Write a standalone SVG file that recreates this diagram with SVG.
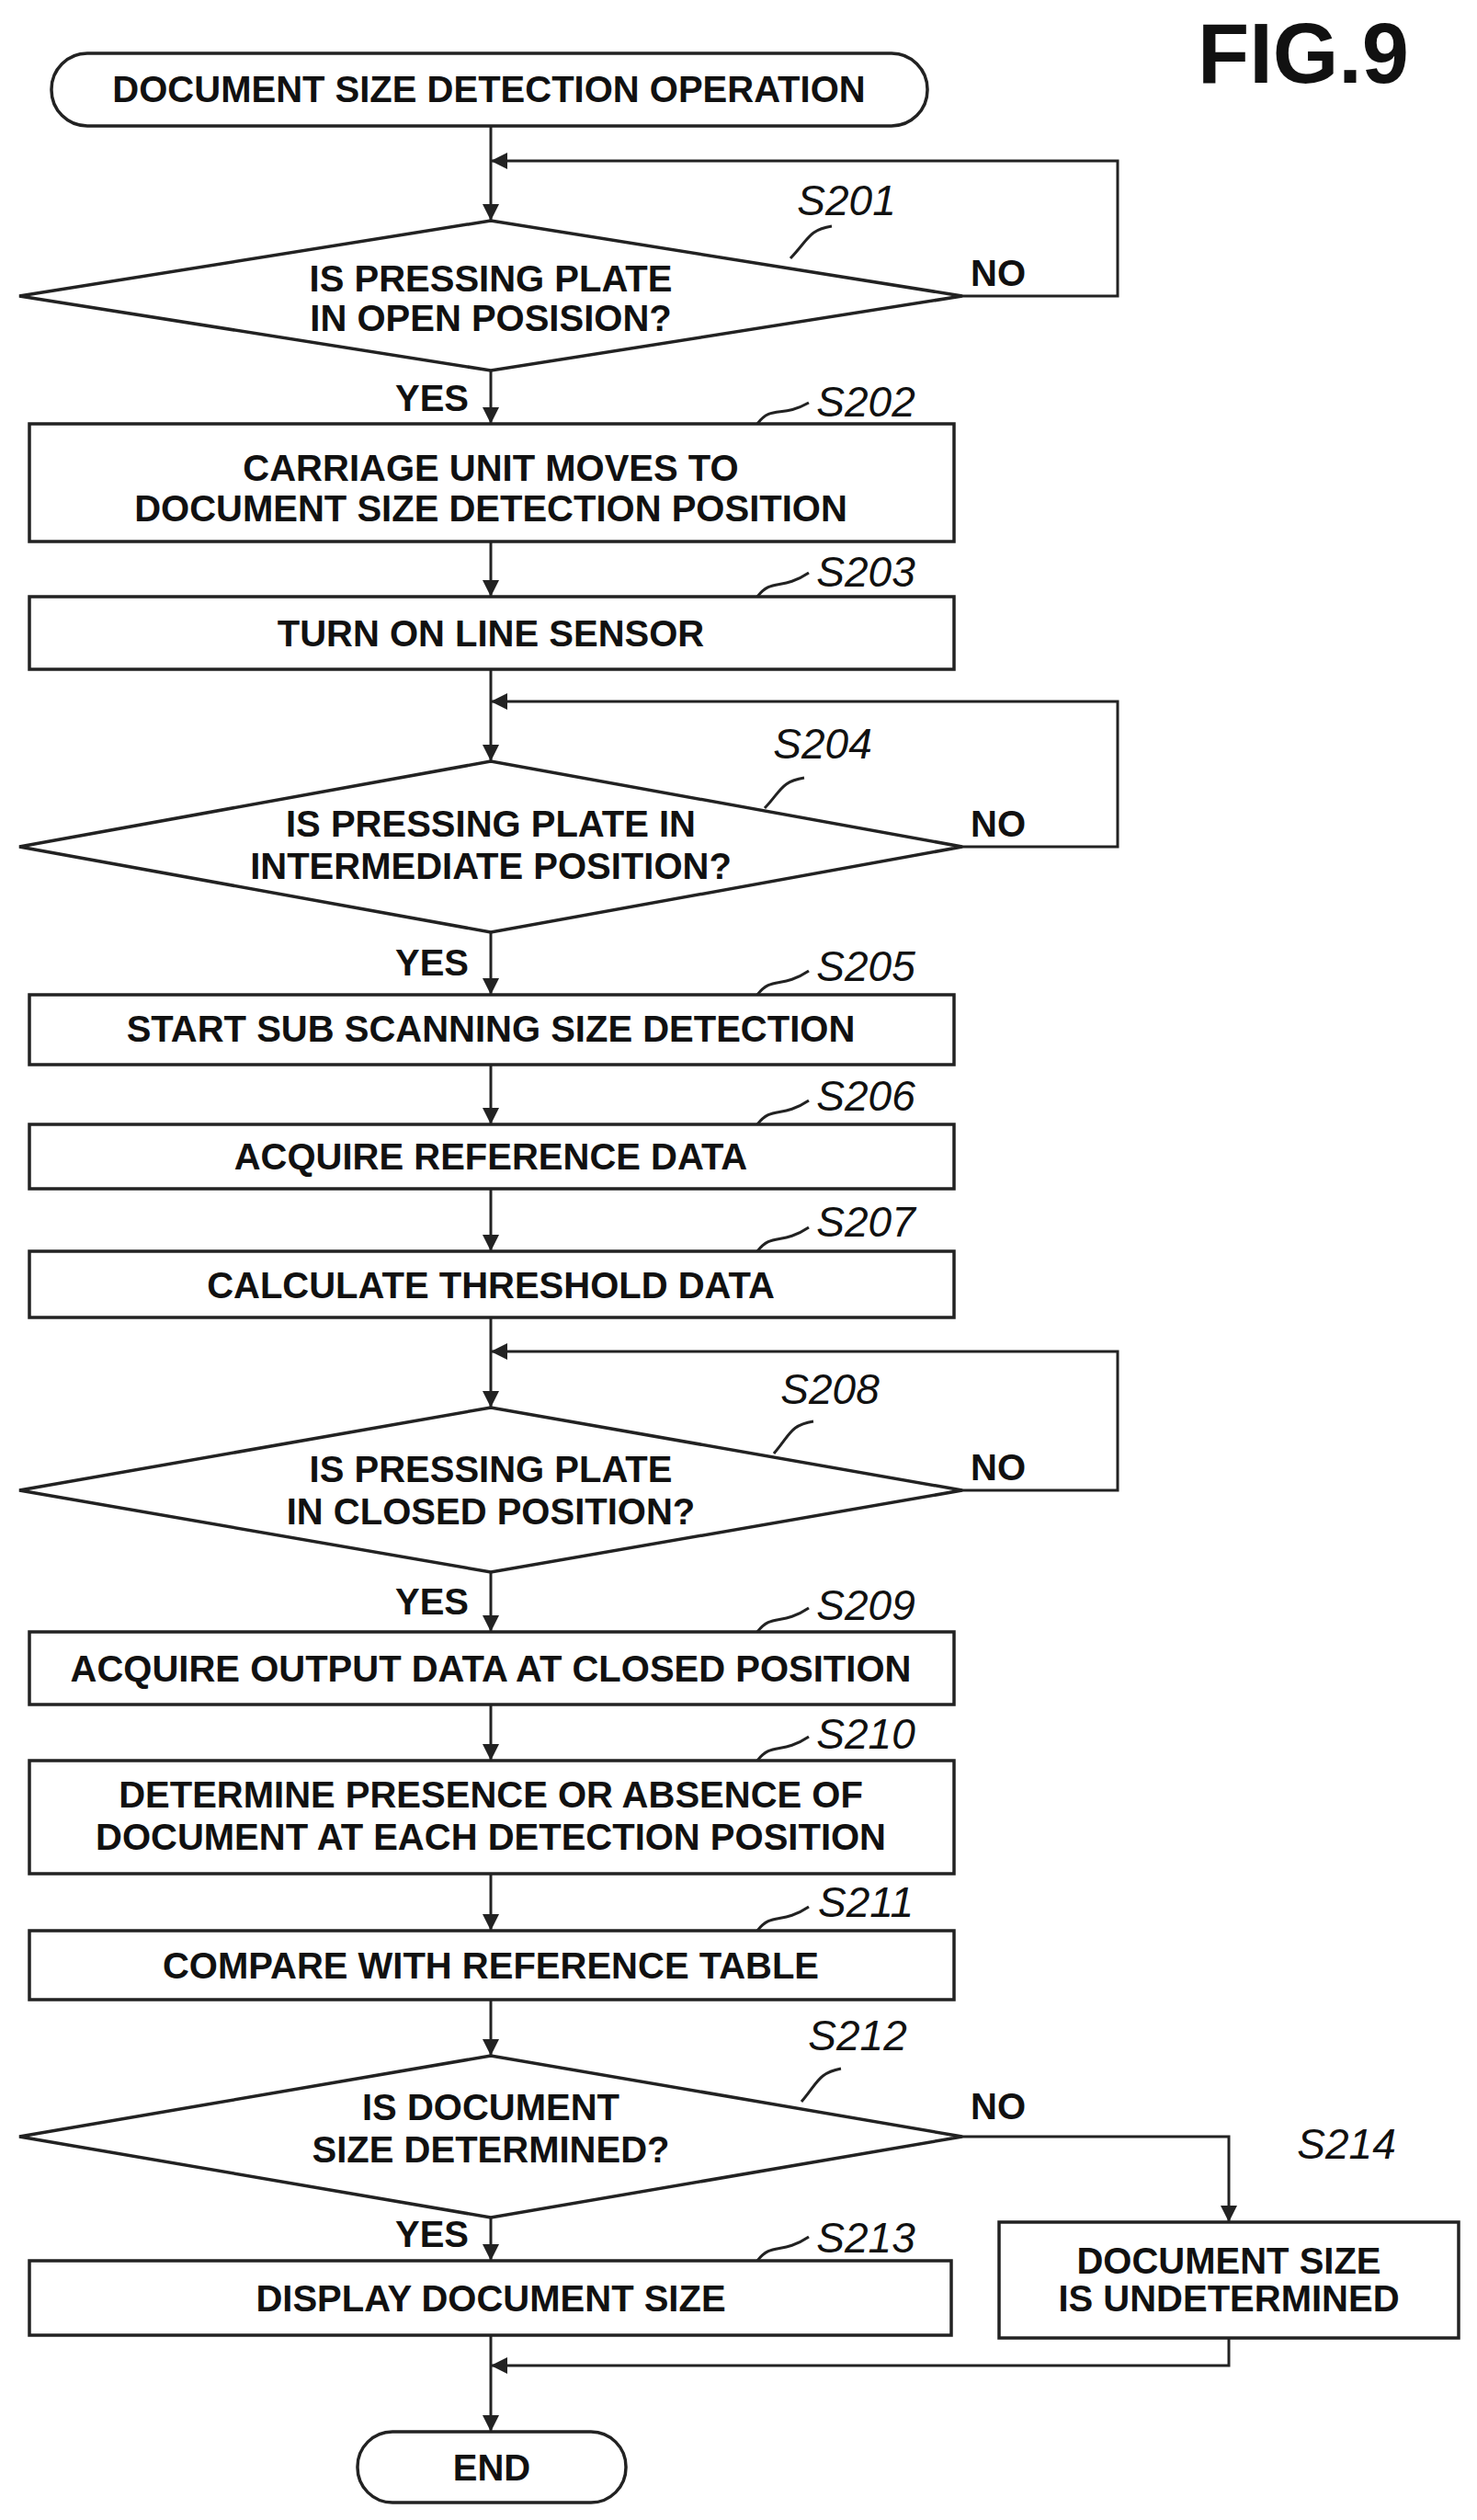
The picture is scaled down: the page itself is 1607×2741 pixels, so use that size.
<svg xmlns="http://www.w3.org/2000/svg" width="1607" height="2741" viewBox="0 0 1607 2741">
<style>
.s{fill:#fff;stroke:#222;stroke-width:3.5}
.c{fill:none;stroke:#222;stroke-width:3}
.t{font-family:"Liberation Sans",Arial,sans-serif;font-weight:bold;font-size:40px;fill:#111;text-anchor:middle}
.l{font-family:"Liberation Sans",Arial,sans-serif;font-style:italic;font-size:46px;fill:#111;text-anchor:middle}
.n{font-family:"Liberation Sans",Arial,sans-serif;font-weight:bold;font-size:40px;fill:#111}
</style>
<defs><marker id="b" viewBox="0 0 10 10" refX="10" refY="5" markerWidth="22" markerHeight="18" orient="auto" markerUnits="userSpaceOnUse"><path d="M0,0 L10,5 L0,10 z" fill="#222"/></marker></defs>
<text x="1418" y="90" font-family="Liberation Sans,Arial,sans-serif" font-weight="bold" font-size="92" text-anchor="middle" fill="#111">FIG.9</text>
<g id="connectors">
<path class="c" marker-end="url(#b)" d="M534,137 V240"/>
<path class="c" marker-end="url(#b)" d="M1047,322 H1216 V175 H534"/>
<path class="c" marker-end="url(#b)" d="M534,403 V461"/>
<path class="c" marker-end="url(#b)" d="M534,589 V649"/>
<path class="c" marker-end="url(#b)" d="M534,728 V828"/>
<path class="c" marker-end="url(#b)" d="M1047,921 H1216 V763 H534"/>
<path class="c" marker-end="url(#b)" d="M534,1014 V1082"/>
<path class="c" marker-end="url(#b)" d="M534,1158 V1223"/>
<path class="c" marker-end="url(#b)" d="M534,1293 V1361"/>
<path class="c" marker-end="url(#b)" d="M534,1433 V1531"/>
<path class="c" marker-end="url(#b)" d="M1047,1621 H1216 V1470 H534"/>
<path class="c" marker-end="url(#b)" d="M534,1710 V1775"/>
<path class="c" marker-end="url(#b)" d="M534,1854 V1915"/>
<path class="c" marker-end="url(#b)" d="M534,2038 V2100"/>
<path class="c" marker-end="url(#b)" d="M534,2175 V2236"/>
<path class="c" marker-end="url(#b)" d="M1047,2324 H1337 V2417"/>
<path class="c" marker-end="url(#b)" d="M534,2412 V2459"/>
<path class="c" marker-end="url(#b)" d="M534,2540 V2645"/>
<path class="c" marker-end="url(#b)" d="M1337,2543 V2573 H534"/>
<text class="t" x="470" y="447">YES</text>
<text class="t" x="470" y="1061">YES</text>
<text class="t" x="470" y="1756">YES</text>
<text class="t" x="470" y="2444">YES</text>
<text class="n" x="1056" y="311">NO</text>
<text class="n" x="1056" y="910">NO</text>
<text class="n" x="1056" y="1610">NO</text>
<text class="n" x="1056" y="2305">NO</text>
</g>
<g id="start"><rect class="s" x="56" y="58" width="953" height="79" rx="39"/><text class="t" x="532" y="111">DOCUMENT SIZE DETECTION OPERATION</text></g>
<g id="S201"><polygon class="s" points="21,322 534,240 1047,322 534,403"/><text class="t" x="534" y="317">IS PRESSING PLATE</text><text class="t" x="534" y="360">IN OPEN POSISION?</text><text class="l" x="921" y="234">S201</text><path class="c" d="M860,281 C880,260 880,250 905,246"/></g>
<g id="S202"><rect class="s" x="32" y="461" width="1006" height="128"/><text class="t" x="534" y="523">CARRIAGE UNIT MOVES TO</text><text class="t" x="534" y="567">DOCUMENT SIZE DETECTION POSITION</text><text class="l" x="942" y="453">S202</text><path class="c" d="M824,461 C840,440 850,455 880,438"/></g>
<g id="S203"><rect class="s" x="32" y="649" width="1006" height="79"/><text class="t" x="534" y="703">TURN ON LINE SENSOR</text><text class="l" x="942" y="638">S203</text><path class="c" d="M824,649 C840,628 850,643 880,623"/></g>
<g id="S204"><polygon class="s" points="21,921 534,828 1047,921 534,1014"/><text class="t" x="534" y="910">IS PRESSING PLATE IN</text><text class="t" x="534" y="956">INTERMEDIATE POSITION?</text><text class="l" x="895" y="825">S204</text><path class="c" d="M832,879 C850,860 850,850 875,846"/></g>
<g id="S205"><rect class="s" x="32" y="1082" width="1006" height="76"/><text class="t" x="534" y="1133">START SUB SCANNING SIZE DETECTION</text><text class="l" x="942" y="1067">S205</text><path class="c" d="M824,1082 C840,1061 850,1076 880,1056"/></g>
<g id="S206"><rect class="s" x="32" y="1223" width="1006" height="70"/><text class="t" x="534" y="1272">ACQUIRE REFERENCE DATA</text><text class="l" x="942" y="1208">S206</text><path class="c" d="M824,1223 C840,1202 850,1217 880,1197"/></g>
<g id="S207"><rect class="s" x="32" y="1361" width="1006" height="72"/><text class="t" x="534" y="1412">CALCULATE THRESHOLD DATA</text><text class="l" x="942" y="1345">S207</text><path class="c" d="M824,1361 C840,1340 850,1355 880,1335"/></g>
<g id="S208"><polygon class="s" points="21,1621 534,1531 1047,1621 534,1710"/><text class="t" x="534" y="1612">IS PRESSING PLATE</text><text class="t" x="534" y="1658">IN CLOSED POSITION?</text><text class="l" x="903" y="1527">S208</text><path class="c" d="M842,1581 C860,1560 860,1550 885,1546"/></g>
<g id="S209"><rect class="s" x="32" y="1775" width="1006" height="79"/><text class="t" x="534" y="1829">ACQUIRE OUTPUT DATA AT CLOSED POSITION</text><text class="l" x="942" y="1762">S209</text><path class="c" d="M824,1775 C840,1754 850,1769 880,1749"/></g>
<g id="S210"><rect class="s" x="32" y="1915" width="1006" height="123"/><text class="t" x="534" y="1966">DETERMINE PRESENCE OR ABSENCE OF</text><text class="t" x="534" y="2012">DOCUMENT AT EACH DETECTION POSITION</text><text class="l" x="942" y="1902">S210</text><path class="c" d="M824,1915 C840,1894 850,1909 880,1889"/></g>
<g id="S211"><rect class="s" x="32" y="2100" width="1006" height="75"/><text class="t" x="534" y="2152">COMPARE WITH REFERENCE TABLE</text><text class="l" x="942" y="2085">S211</text><path class="c" d="M824,2100 C840,2079 850,2094 880,2074"/></g>
<g id="S212"><polygon class="s" points="21,2324 534,2236 1047,2324 534,2412"/><text class="t" x="534" y="2306">IS DOCUMENT</text><text class="t" x="534" y="2352">SIZE DETERMINED?</text><text class="l" x="933" y="2230">S212</text><path class="c" d="M872,2286 C890,2265 890,2255 915,2250"/></g>
<g id="S213"><rect class="s" x="32" y="2459" width="1003" height="81"/><text class="t" x="534" y="2514">DISPLAY DOCUMENT SIZE</text><text class="l" x="942" y="2450">S213</text><path class="c" d="M824,2459 C840,2438 850,2453 880,2433"/></g>
<g id="S214"><rect class="s" x="1087" y="2417" width="500" height="126"/><text class="t" x="1337" y="2473">DOCUMENT SIZE</text><text class="t" x="1337" y="2514">IS UNDETERMINED</text><text class="l" x="1465" y="2348">S214</text></g>
<g id="end"><rect class="s" x="389" y="2645" width="292" height="77" rx="38"/><text class="t" x="535" y="2698">END</text></g>
</svg>
